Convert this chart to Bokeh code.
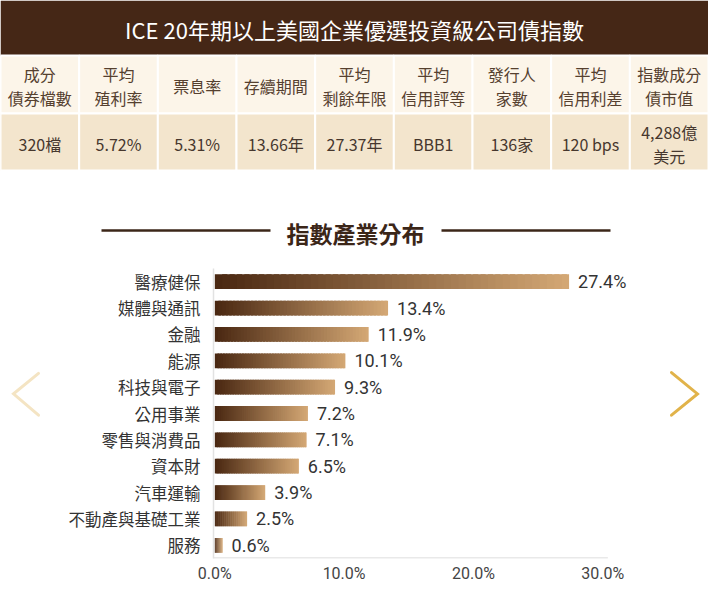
import numpy as np
from bokeh.plotting import figure
from bokeh.layouts import column, row
from bokeh.models import Range1d, FactorRange, FixedTicker, PrintfTickFormatter
from bokeh.core.properties import value
from bokeh.embed import file_html
from bokeh.resources import INLINE

# ---------------- data ----------------
TITLE = "ICE 20年期以上美國企業優選投資級公司債指數"
SECTION = "指數產業分布"
table_headers = ["成分\n債券檔數", "平均\n殖利率", "票息率", "存續期間", "平均\n剩餘年限",
                 "平均\n信用評等", "發行人\n家數", "平均\n信用利差", "指數成分\n債市值"]
table_values = ["320檔", "5.72%", "5.31%", "13.66年", "27.37年", "BBB1", "136家",
                "120 bps", "4,288億\n美元"]
sectors = ["醫療健保", "媒體與通訊", "金融", "能源", "科技與電子", "公用事業",
           "零售與消費品", "資本財", "汽車運輸", "不動產與基礎工業", "服務"]
weights = [27.4, 13.4, 11.9, 10.1, 9.3, 7.2, 7.1, 6.5, 3.9, 2.5, 0.6]
tick_values = [0, 10, 20, 30]
tick_labels = ["0.0%", "10.0%", "20.0%", "30.0%"]

CJK = "Noto Sans CJK TC"
NUM = "Roboto"

# ---------------- top block: header, table, section title ----------------
top = figure(width=708, height=250, x_range=Range1d(0, 708), y_range=Range1d(250, 0),
             toolbar_location=None, output_backend="svg", x_axis_location=None,
             y_axis_location=None, min_border=0, outline_line_color=None)
top.grid.visible = False

top.quad(left=[0], right=[708], top=[0], bottom=[55], fill_color="#452716", line_color=None)
top.text(x=[354], y=[28], text=[TITLE], text_font=value(CJK), text_font_size="22px",
         text_color="#ffffff", text_align="center", text_baseline="middle")

ncol = len(table_headers)
edges = np.linspace(0, 708, ncol + 1)
centers = (edges[:-1] + edges[1:]) / 2
top.quad(left=edges[:-1], right=edges[1:], top=[55] * ncol, bottom=[113] * ncol,
         fill_color="#fcf5e9", line_color="#ffffff", line_width=2)
top.quad(left=edges[:-1], right=edges[1:], top=[113] * ncol, bottom=[170] * ncol,
         fill_color="#f3e5cd", line_color="#ffffff", line_width=2)
top.text(x=centers, y=[85] * ncol, text=table_headers, text_font=value(CJK),
         text_font_size="16px", text_color="#55402f", text_align="center",
         text_baseline="middle", text_line_height=1.0)
top.text(x=centers, y=[143] * ncol, text=table_values, text_font=value(CJK),
         text_font_size="16px", text_color="#46372d", text_align="center",
         text_baseline="middle", text_line_height=1.0)

top.segment(x0=[101, 441], x1=[270, 610], y0=[230, 230], y1=[230, 230],
            line_color="#3b2618", line_width=2.5)
top.text(x=[355], y=[232], text=[SECTION], text_font=value(CJK), text_font_size="23px",
         text_font_style="bold", text_color="#3b2618", text_align="center",
         text_baseline="middle")

# ---------------- bar chart ----------------
bar = figure(width=600, height=340, y_range=FactorRange(factors=sectors[::-1]),
             x_range=Range1d(-0.1, 34.47), toolbar_location=None, output_backend="svg",
             min_border_left=153, min_border_right=0, min_border_top=18,
             min_border_bottom=32, outline_line_color=None)
bar.grid.visible = False

N = 48
c0 = np.array([0x4a, 0x28, 0x12], dtype=float)
c1 = np.array([0xd3, 0xa7, 0x74], dtype=float)
ys, ls, rs, cs = [], [], [], []
for s, w in zip(sectors, weights):
    for i in range(N):
        t = i / (N - 1)
        ys.append(s)
        ls.append(w * i / N)
        rs.append(min(w, w * (i + 1.7) / N))
        c = c0 + (c1 - c0) * t
        cs.append("#%02x%02x%02x" % tuple(int(round(v)) for v in c))
bar.hbar(y=ys, left=ls, right=rs, height=0.56, fill_color=cs, line_color=None)

bar.text(x=weights, y=sectors, text=[f"{w:.1f}%" for w in weights], x_offset=9,
         text_font=value(NUM), text_font_size="18px", text_color="#333333",
         text_align="left", text_baseline="middle")

# x baseline along the bottom of the last category (ends just past the last tick)
base_y = (sectors[-1], -0.485)
bar.segment(x0=[bar.x_range.start], x1=[max(tick_values) + 0.4], y0=[base_y], y1=[base_y],
            line_color="#e2e2e2", line_width=1.5)

xa = bar.xaxis[0]
xa.ticker = FixedTicker(ticks=tick_values)
xa.formatter = PrintfTickFormatter(format="%.1f%%")
xa.major_label_overrides = dict(zip(tick_values, tick_labels))
xa.axis_line_color = None
xa.major_tick_line_color = None
xa.minor_tick_line_color = None
xa.major_tick_out = 0
xa.major_tick_in = 0
xa.major_label_text_font = NUM
xa.major_label_text_font_size = "16px"
xa.major_label_text_color = "#444444"
xa.major_label_standoff = 5

ya = bar.yaxis[0]
ya.axis_line_color = "#e2e2e2"
ya.axis_line_width = 1.5
ya.major_tick_line_color = None
ya.minor_tick_line_color = None
ya.major_tick_out = 0
ya.major_tick_in = 0
ya.major_label_text_font = CJK
ya.major_label_text_font_size = "16.5px"
ya.major_label_text_color = "#333333"
ya.major_label_standoff = 13

# ---------------- navigation chevrons ----------------
left_arrow_x = [38, 13, 38]
left_arrow_y = [373, 397, 422]
right_arrow_x = [671, 697, 671]
right_arrow_y = [372, 397, 422]

lf = figure(width=60, height=340, x_range=Range1d(0, 60), y_range=Range1d(590, 250),
            toolbar_location=None, output_backend="svg", x_axis_location=None,
            y_axis_location=None, min_border=0, outline_line_color=None)
lf.grid.visible = False
lf.line(x=left_arrow_x, y=left_arrow_y, line_color="#f4e4c3", line_width=3,
        line_cap="round", line_join="miter")

rf = figure(width=48, height=340, x_range=Range1d(660, 708), y_range=Range1d(590, 250),
            toolbar_location=None, output_backend="svg", x_axis_location=None,
            y_axis_location=None, min_border=0, outline_line_color=None)
rf.grid.visible = False
rf.line(x=right_arrow_x, y=right_arrow_y, line_color="#e1b34a", line_width=3,
        line_cap="round", line_join="miter")

layout = column(top, row(lf, bar, rf))
open("out.html", "w").write(file_html(layout, INLINE))
